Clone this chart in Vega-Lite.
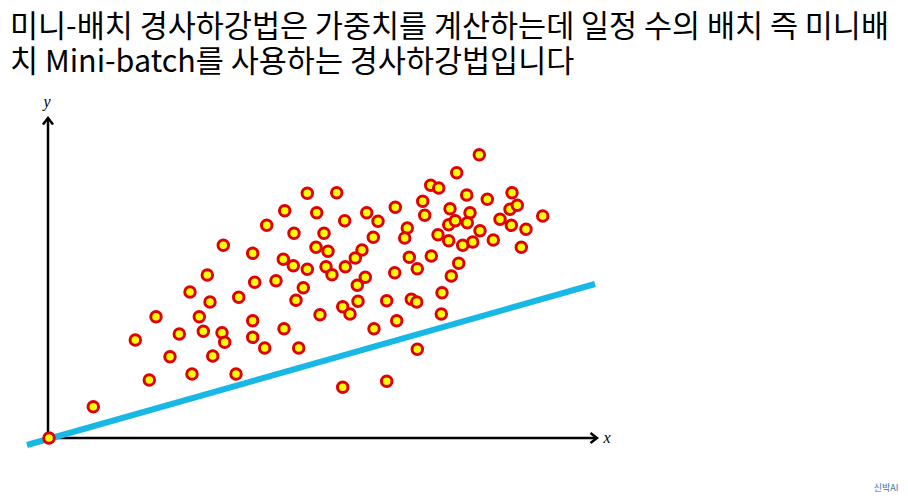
{
  "$schema": "https://vega.github.io/schema/vega-lite/v6.json",
  "width": 560,
  "height": 340,
  "autosize": {"type": "none"},
  "padding": {"left": 48, "top": 98, "right": 300, "bottom": 62},
  "background": "white",
  "config": {"view": {"stroke": null}},
  "title": {
    "text": ["미니-배치 경사하강법은 가중치를 계산하는데 일정 수의 배치 즉 미니배", "치 Mini-batch를 사용하는 경사하강법입니다"],
    "anchor": "start",
    "frame": "group",
    "dx": -38,
    "offset": 16,
    "font": "Noto Sans CJK KR",
    "fontSize": 30.5,
    "fontWeight": "normal",
    "lineHeight": 35,
    "color": "#000000"
  },
  "layer": [
    {
      "data": {"values": [{"x": 0, "y": 0, "x2": 549, "y2": 0}, {"x": 0, "y": 0, "x2": 0, "y2": 320}]},
      "mark": {"type": "rule", "color": "#000000", "strokeWidth": 2.5},
      "encoding": {
        "x": {"field": "x", "type": "quantitative", "scale": {"domain": [0, 560], "nice": false, "zero": false}, "axis": null},
        "y": {"field": "y", "type": "quantitative", "scale": {"domain": [0, 340], "nice": false, "zero": false}, "axis": null},
        "x2": {"field": "x2"},
        "y2": {"field": "y2"}
      }
    },
    {
      "data": {"values": [{"x": 549, "y": 0}]},
      "mark": {"type": "point", "shape": "M-1.3,-1L0,0L-1.3,1", "filled": false, "stroke": "#000000", "strokeWidth": 2.5, "size": 100, "opacity": 1},
      "encoding": {
        "x": {"field": "x", "type": "quantitative"},
        "y": {"field": "y", "type": "quantitative"}
      }
    },
    {
      "data": {"values": [{"x": 0, "y": 320}]},
      "mark": {"type": "point", "shape": "M-1,1.3L0,0L1,1.3", "filled": false, "stroke": "#000000", "strokeWidth": 2.5, "size": 100, "opacity": 1},
      "encoding": {
        "x": {"field": "x", "type": "quantitative"},
        "y": {"field": "y", "type": "quantitative"}
      }
    },
    {
      "data": {"values": [{"x": -21, "y": -7}, {"x": 547, "y": 154}]},
      "mark": {"type": "line", "color": "#17B7E6", "strokeWidth": 6, "strokeCap": "butt", "clip": false},
      "encoding": {
        "x": {"field": "x", "type": "quantitative"},
        "y": {"field": "y", "type": "quantitative"}
      }
    },
    {
      "data": {"values": [
        {"x": 1, "y": 0}, {"x": 45.3, "y": 31.3}, {"x": 101.3, "y": 58}, {"x": 87.3, "y": 98}, {"x": 108, "y": 121.3},
        {"x": 122, "y": 81.3}, {"x": 131.3, "y": 104}, {"x": 144, "y": 64}, {"x": 142, "y": 146}, {"x": 159.3, "y": 163},
        {"x": 151.3, "y": 121.3}, {"x": 155.3, "y": 106.7}, {"x": 162, "y": 136}, {"x": 164.7, "y": 82}, {"x": 174, "y": 105.3},
        {"x": 176.7, "y": 95.7}, {"x": 188, "y": 64}, {"x": 175.3, "y": 192.7}, {"x": 190.7, "y": 140.7}, {"x": 204.7, "y": 184.7},
        {"x": 206.7, "y": 155.7}, {"x": 204.7, "y": 117.3}, {"x": 204.7, "y": 100.7}, {"x": 216.7, "y": 90}, {"x": 218.7, "y": 212.7},
        {"x": 228, "y": 157.3}, {"x": 236, "y": 109.3}, {"x": 236.7, "y": 227.3}, {"x": 235.3, "y": 178.7}, {"x": 246, "y": 204.7},
        {"x": 245.3, "y": 172.3}, {"x": 250.7, "y": 90}, {"x": 248, "y": 137.7}, {"x": 255.3, "y": 150.3}, {"x": 259.3, "y": 168.7},
        {"x": 259.3, "y": 244.7}, {"x": 268.7, "y": 225.3}, {"x": 276, "y": 204.7}, {"x": 268, "y": 190.7}, {"x": 272, "y": 123.3},
        {"x": 431.3, "y": 283.3}, {"x": 408.7, "y": 265.3}, {"x": 382.7, "y": 252.7}, {"x": 390.7, "y": 250}, {"x": 288.7, "y": 245.3},
        {"x": 418.7, "y": 243}, {"x": 439.3, "y": 238.7}, {"x": 464, "y": 245.3}, {"x": 374.7, "y": 236.7}, {"x": 347.3, "y": 230.7},
        {"x": 402, "y": 229.3}, {"x": 318.7, "y": 225.3}, {"x": 422, "y": 225.3}, {"x": 462, "y": 228.7}, {"x": 469.3, "y": 232.7},
        {"x": 494.7, "y": 222}, {"x": 376.7, "y": 222.7}, {"x": 296.7, "y": 217.3}, {"x": 330, "y": 216.7}, {"x": 400.7, "y": 213.3},
        {"x": 407.3, "y": 217.3}, {"x": 419.3, "y": 215.3}, {"x": 452, "y": 218.7}, {"x": 463.3, "y": 212.7}, {"x": 478, "y": 208.7},
        {"x": 359.3, "y": 210}, {"x": 356.7, "y": 200}, {"x": 390, "y": 203.3}, {"x": 400.7, "y": 197.3}, {"x": 414.7, "y": 192.7},
        {"x": 424.7, "y": 196}, {"x": 432, "y": 207.3}, {"x": 445.3, "y": 198}, {"x": 473.3, "y": 190.7}, {"x": 325.3, "y": 200.7},
        {"x": 314, "y": 188}, {"x": 307.3, "y": 180}, {"x": 280, "y": 186.7}, {"x": 278, "y": 171.3}, {"x": 284, "y": 163.3},
        {"x": 297.3, "y": 171.3}, {"x": 361.3, "y": 180.7}, {"x": 369.3, "y": 169.3}, {"x": 383.3, "y": 182}, {"x": 410.7, "y": 174.7},
        {"x": 403.3, "y": 162}, {"x": 346.7, "y": 165.3}, {"x": 317.3, "y": 160.7}, {"x": 309.3, "y": 152.7}, {"x": 394, "y": 145.3},
        {"x": 310, "y": 136.7}, {"x": 294.7, "y": 131.3}, {"x": 302, "y": 124}, {"x": 338.7, "y": 137.3}, {"x": 363.3, "y": 138.7},
        {"x": 368.7, "y": 136}, {"x": 393.3, "y": 124}, {"x": 326, "y": 109.3}, {"x": 348.7, "y": 117.3}, {"x": 369.3, "y": 88.7},
        {"x": 294.7, "y": 50.7}, {"x": 338.7, "y": 56.7}
      ]},
      "mark": {"type": "point", "shape": "circle", "filled": true, "fill": "#FFFF00", "stroke": "#E00000", "strokeWidth": 3, "size": 110, "opacity": 1, "clip": false},
      "encoding": {
        "x": {"field": "x", "type": "quantitative"},
        "y": {"field": "y", "type": "quantitative"}
      }
    },
    {
      "data": {"values": [{"x": 559, "y": 0, "t": "x"}, {"x": -1, "y": 336, "t": "y"}]},
      "mark": {"type": "text", "font": "Liberation Serif", "fontStyle": "italic", "fontSize": 16, "color": "#000000", "baseline": "middle", "align": "center"},
      "encoding": {
        "x": {"field": "x", "type": "quantitative"},
        "y": {"field": "y", "type": "quantitative"},
        "text": {"field": "t"}
      }
    },
    {
      "data": {"values": [{"x": 838, "y": -50, "t": "신박AI"}]},
      "mark": {"type": "text", "font": "Noto Sans CJK KR", "fontSize": 9, "color": "#3F6FA8", "baseline": "middle", "align": "center"},
      "encoding": {
        "x": {"field": "x", "type": "quantitative"},
        "y": {"field": "y", "type": "quantitative"},
        "text": {"field": "t"}
      }
    }
  ]
}
